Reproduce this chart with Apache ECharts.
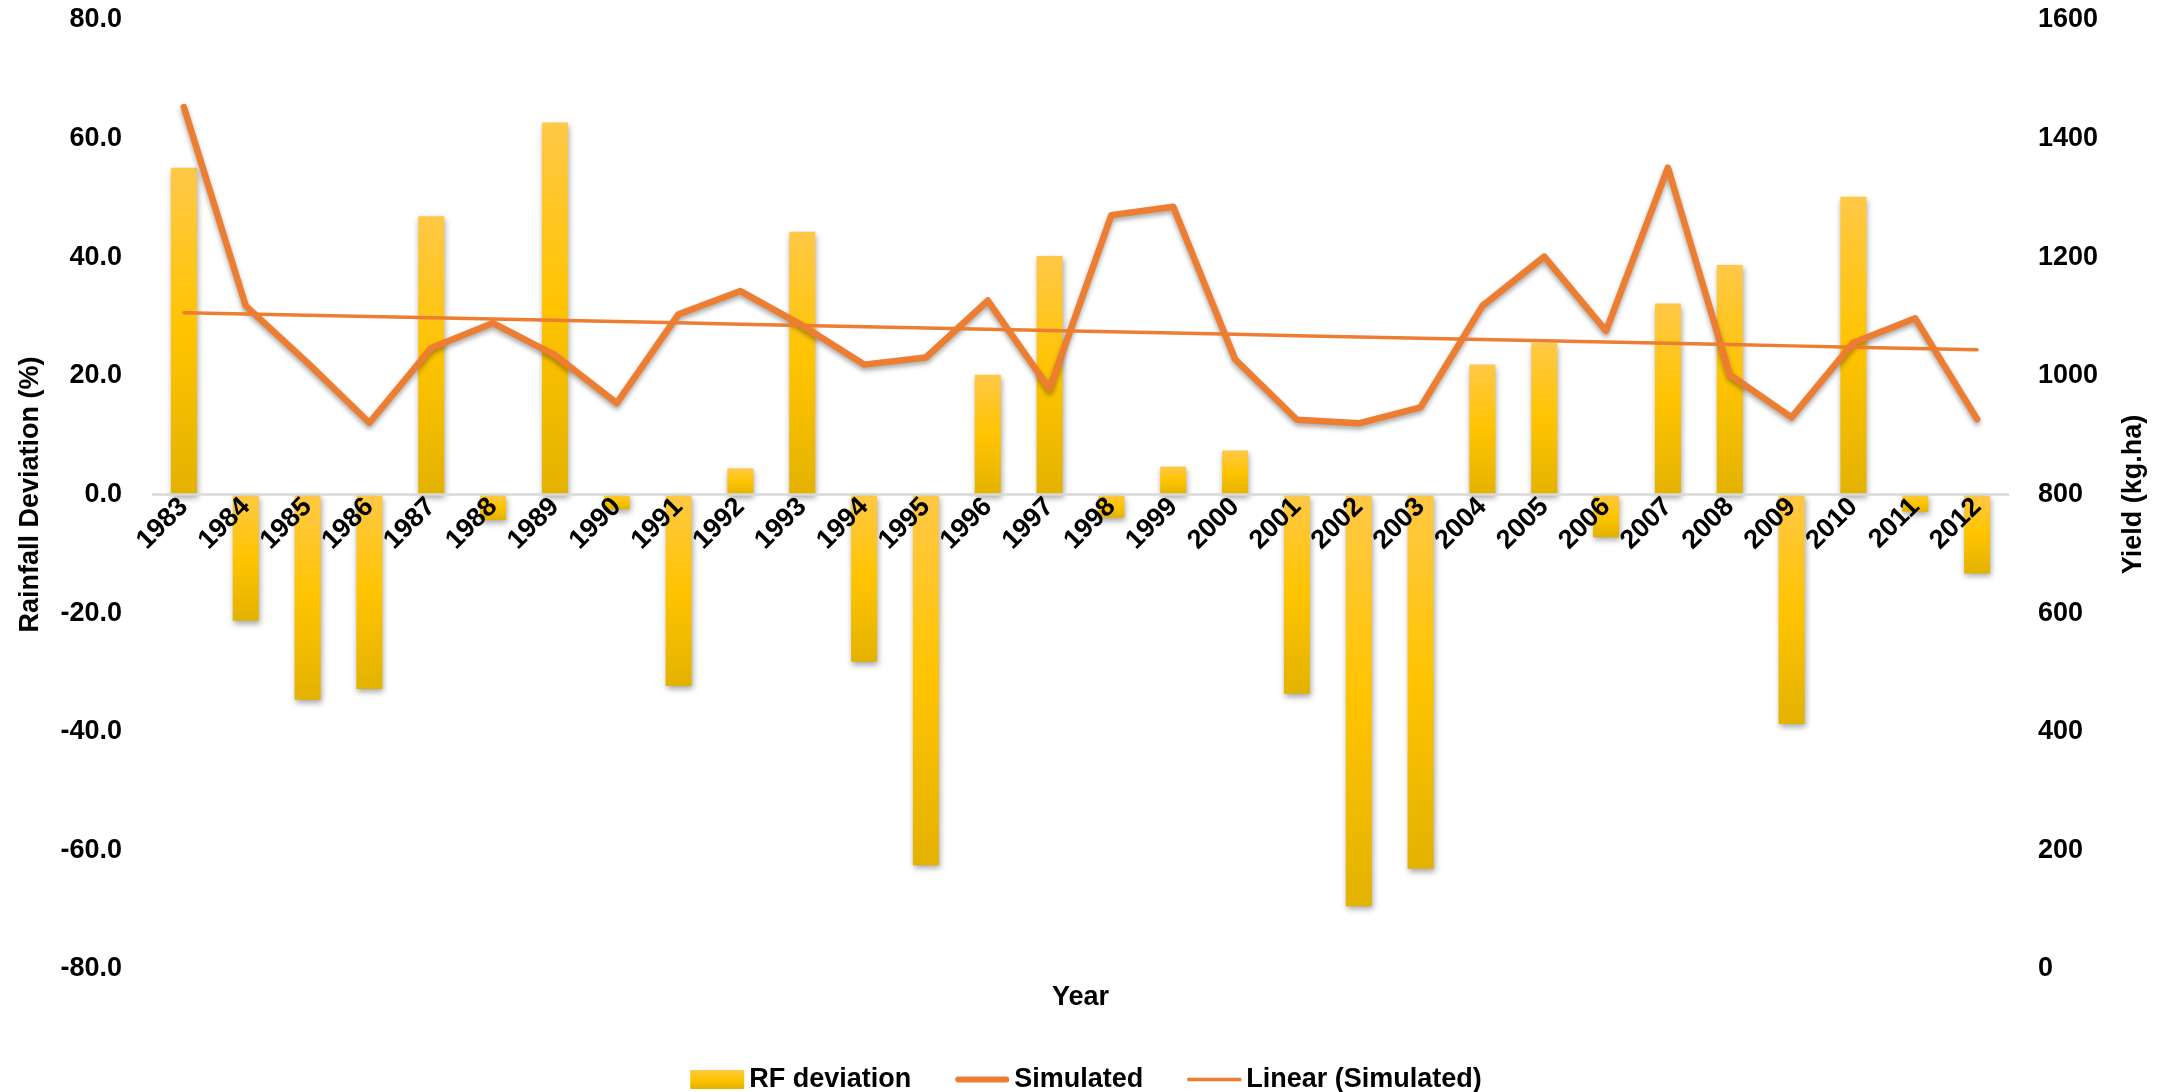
<!DOCTYPE html>
<html>
<head>
<meta charset="utf-8">
<script src="https://cdn.jsdelivr.net/npm/echarts@6/dist/echarts.min.js"></script>
<style>
  html, body { margin: 0; padding: 0; background: #ffffff; }
  #chart { width: 2172px; height: 1092px; }
</style>
</head>
<body>
<div id="chart"></div>
<script>
// Seasonal rainfall deviation (%) and simulated yield (kg.ha), 1983-2012
const years = ['1983','1984','1985','1986','1987','1988','1989','1990','1991','1992',
               '1993','1994','1995','1996','1997','1998','1999','2000','2001','2002',
               '2003','2004','2005','2006','2007','2008','2009','2010','2011','2012'];

const rfDeviation = [55.1, -21.3, -34.6, -32.8, 46.9, -4.3, 62.7, -2.5, -32.3, 4.4,
                     44.3, -28.2, -62.5, 20.2, 40.2, -3.9, 4.7, 7.4, -33.6, -69.4,
                     -63.1, 21.9, 25.6, -7.2, 32.2, 38.7, -38.7, 50.2, -2.9, -13.3];

const simulated = [1453, 1118, 1022, 921, 1047, 1089, 1035, 954, 1104, 1143,
                   1085, 1019, 1031, 1127, 978, 1271, 1285, 1028, 926, 920,
                   947, 1118, 1201, 1076, 1351, 1002, 930, 1056, 1097, 927];

const seriesNames = ['RF deviation', 'Simulated', 'Linear (Simulated)'];

// Axis ranges: [min, max, step]
const deviationRange = [-80, 80, 20];
const yieldRange = [0, 1600, 200];

// Least-squares straight line through the simulated yields
function linearTrend(values) {
  const n = values.length;
  let sx = 0, sy = 0, sxx = 0, sxy = 0;
  values.forEach((y, i) => { sx += i; sy += y; sxx += i * i; sxy += i * y; });
  const slope = (n * sxy - sx * sy) / (n * sxx - sx * sx);
  const intercept = (sy - slope * sx) / n;
  return values.map((_, i) => +(intercept + slope * i).toFixed(2));
}
const simulatedTrend = linearTrend(simulated);

const FONT = "'Liberation Sans', Arial, sans-serif";
const textBase = { color: '#000000', fontSize: 27, fontWeight: 'bold', fontFamily: FONT };
const ORANGE = '#ED7D31';

// Plot area
const GRID = { left: 153, right: 164, top: 20, bottom: 123 };
const plotHeight = 1092 - GRID.top - GRID.bottom;
// Category axis sits on the zero of the deviation axis
const zeroShift = -plotHeight * (0 - deviationRange[0]) / (deviationRange[1] - deviationRange[0]);

const barFill = new echarts.graphic.LinearGradient(0, 0, 0, 1, [
  { offset: 0, color: '#FFC846' },
  { offset: 0.5, color: '#FFC400' },
  { offset: 1, color: '#E3B200' }
]);

const chart = echarts.init(document.getElementById('chart'), null, { renderer: 'canvas' });

chart.setOption({
  animation: false,
  backgroundColor: '#ffffff',
  grid: Object.assign({ outerBoundsMode: 'none' }, GRID),
  legend: {
    data: [
      { name: seriesNames[0], icon: 'rect' },
      { name: seriesNames[1], icon: 'path://M3,0L51,0A3,3,0,0,1,51,6L3,6A3,3,0,0,1,3,0Z' },
      { name: seriesNames[2], icon: 'path://M0,0L54,0L54,3.5L0,3.5Z' }
    ],
    left: 'center',
    top: 1061,
    itemWidth: 54,
    itemHeight: 19,
    itemGap: 44,
    textStyle: textBase,
    itemStyle: { shadowBlur: 0, shadowOffsetX: 0, shadowOffsetY: 0, shadowColor: 'transparent' },
    lineStyle: { shadowBlur: 0, shadowOffsetX: 0, shadowOffsetY: 0, shadowColor: 'transparent' }
  },
  xAxis: {
    type: 'category',
    data: years,
    boundaryGap: true,
    z: 10,
    offset: zeroShift,
    axisLine: { onZero: false, lineStyle: { color: '#D9D9D9', width: 2.5 } },
    axisTick: { show: false },
    axisLabel: Object.assign({ rotate: 45, interval: 0, margin: 8 }, textBase),
    name: 'Year',
    nameLocation: 'middle',
    nameGap: 490,
    nameTextStyle: textBase
  },
  yAxis: [
    {
      type: 'value',
      min: deviationRange[0], max: deviationRange[1], interval: deviationRange[2],
      splitLine: { show: false },
      axisLine: { show: false },
      axisTick: { show: false },
      axisLabel: Object.assign({ margin: 31, formatter: v => v.toFixed(1) }, textBase),
      name: 'Rainfall Deviation (%)',
      nameLocation: 'middle',
      nameRotate: 90,
      nameGap: 109,
      nameTextStyle: textBase
    },
    {
      type: 'value',
      position: 'right',
      min: yieldRange[0], max: yieldRange[1], interval: yieldRange[2],
      splitLine: { show: false },
      axisLine: { show: false },
      axisTick: { show: false },
      axisLabel: Object.assign({ margin: 30, formatter: v => String(v) }, textBase),
      name: 'Yield (kg.ha)',
      nameLocation: 'middle',
      nameRotate: 90,
      nameGap: 112,
      nameTextStyle: textBase
    }
  ],
  series: [
    {
      name: seriesNames[0],
      type: 'bar',
      yAxisIndex: 0,
      data: rfDeviation,
      barWidth: 26,
      z: 2,
      itemStyle: {
        color: barFill,
        shadowColor: 'rgba(0,0,0,0.35)',
        shadowBlur: 6,
        shadowOffsetX: 1,
        shadowOffsetY: 3
      }
    },
    {
      name: seriesNames[1],
      type: 'line',
      yAxisIndex: 1,
      data: simulated,
      symbol: 'none',
      z: 3,
      itemStyle: { color: ORANGE },
      lineStyle: {
        color: ORANGE, width: 6.5, cap: 'round', join: 'round',
        shadowColor: 'rgba(0,0,0,0.35)', shadowBlur: 5, shadowOffsetY: 3
      }
    },
    {
      name: seriesNames[2],
      type: 'line',
      yAxisIndex: 1,
      data: simulatedTrend,
      symbol: 'none',
      z: 4,
      itemStyle: { color: ORANGE },
      lineStyle: { color: ORANGE, width: 3.5, cap: 'round' }
    }
  ]
});
</script>
</body>
</html>
